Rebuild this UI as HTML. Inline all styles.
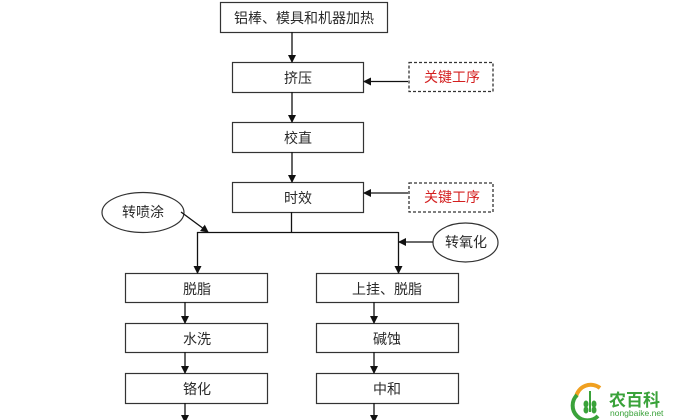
<!DOCTYPE html>
<html>
<head>
<meta charset="utf-8">
<style>
html,body{margin:0;padding:0;background:#fff;}
svg{display:block;}
text{font-family:"Liberation Sans","Noto Sans CJK SC",sans-serif;}
</style>
</head>
<body>
<svg width="680" height="420" viewBox="0 0 680 420" xmlns="http://www.w3.org/2000/svg">
<defs>
<marker id="ah" markerWidth="8" markerHeight="8" refX="7" refY="4" orient="auto" markerUnits="userSpaceOnUse">
<path d="M0,0 L8,4 L0,8 Z" fill="#111"/>
</marker>
</defs>
<g fill="#fff" stroke="#333" stroke-width="1.2">
<rect x="220.5" y="2.5" width="167" height="30"/>
<rect x="232.5" y="62.5" width="131" height="30"/>
<rect x="232.5" y="122.5" width="131" height="30"/>
<rect x="232.5" y="182.5" width="131" height="30"/>
<rect x="125.5" y="273.5" width="142" height="29"/>
<rect x="125.5" y="323.5" width="142" height="29"/>
<rect x="125.5" y="373.5" width="142" height="30"/>
<rect x="316.5" y="273.5" width="142" height="29"/>
<rect x="316.5" y="323.5" width="142" height="29"/>
<rect x="316.5" y="373.5" width="142" height="30"/>
</g>
<g fill="none" stroke="#333" stroke-width="1.3" stroke-dasharray="3,2">
<rect x="409" y="62.5" width="84" height="29"/>
<rect x="409" y="183" width="84" height="29"/>
</g>
<g fill="#fff" stroke="#333" stroke-width="1.2">
<ellipse cx="143" cy="212.5" rx="41" ry="20"/>
<ellipse cx="465.5" cy="242.5" rx="32.5" ry="19.5"/>
</g>
<g stroke="#111" stroke-width="1.3" fill="none">
<line x1="292" y1="32" x2="292" y2="62" marker-end="url(#ah)"/>
<line x1="292" y1="92" x2="292" y2="122" marker-end="url(#ah)"/>
<line x1="292" y1="152" x2="292" y2="182" marker-end="url(#ah)"/>
<line x1="408" y1="81.5" x2="364" y2="81.5" marker-end="url(#ah)"/>
<line x1="408" y1="193" x2="364" y2="193" marker-end="url(#ah)"/>
<line x1="291.5" y1="212" x2="291.5" y2="232"/>
<line x1="197" y1="232.5" x2="398.5" y2="232.5"/>
<line x1="197.5" y1="232" x2="197.5" y2="273" marker-end="url(#ah)"/>
<line x1="398.5" y1="232" x2="398.5" y2="273" marker-end="url(#ah)"/>
<line x1="181" y1="212" x2="208" y2="232" marker-end="url(#ah)"/>
<line x1="433" y1="242" x2="399" y2="242" marker-end="url(#ah)"/>
<line x1="185" y1="302" x2="185" y2="323" marker-end="url(#ah)"/>
<line x1="185" y1="352" x2="185" y2="373" marker-end="url(#ah)"/>
<line x1="185" y1="403" x2="185" y2="422" marker-end="url(#ah)"/>
<line x1="374" y1="302" x2="374" y2="323" marker-end="url(#ah)"/>
<line x1="374" y1="352" x2="374" y2="373" marker-end="url(#ah)"/>
<line x1="374" y1="403" x2="374" y2="422" marker-end="url(#ah)"/>
</g>
<g font-size="14" fill="#2a2a2a" text-anchor="middle">
<text x="304" y="23">铝棒、模具和机器加热</text>
<text x="298" y="83">挤压</text>
<text x="298" y="143">校直</text>
<text x="298" y="203">时效</text>
<text x="197" y="294">脱脂</text>
<text x="197" y="344">水洗</text>
<text x="197" y="394">铬化</text>
<text x="387" y="294">上挂、脱脂</text>
<text x="387" y="344">碱蚀</text>
<text x="387" y="394">中和</text>
<text x="143" y="217">转喷涂</text>
<text x="466" y="247">转氧化</text>
</g>
<g font-size="14" fill="#d42020" text-anchor="middle">
<text x="452" y="82">关键工序</text>
<text x="452" y="202">关键工序</text>
</g>
<!-- logo -->
<g>
<path d="M576,397 A15,15 0 0 1 600,388" stroke="#f0a020" stroke-width="4" fill="none"/>
<path d="M577,395 A14,14 0 0 0 598,416" stroke="#3aa23a" stroke-width="4" fill="none"/>
<line x1="590" y1="391" x2="590" y2="412" stroke="#3aa23a" stroke-width="2"/>
<ellipse cx="586" cy="404" rx="2.5" ry="3.5" fill="#3aa23a"/>
<ellipse cx="594" cy="404" rx="2.5" ry="3.5" fill="#3aa23a"/>
<ellipse cx="586" cy="410" rx="2.5" ry="3.5" fill="#3aa23a"/>
<ellipse cx="594" cy="410" rx="2.5" ry="3.5" fill="#3aa23a"/>
<text x="609" y="406" font-size="17" font-weight="bold" fill="#3aa23a" font-family="'Noto Sans CJK SC',sans-serif">农百科</text>
<text x="610" y="416" font-size="8.5" fill="#3aa23a">nongbaike.net</text>
</g>
</svg>
</body>
</html>
